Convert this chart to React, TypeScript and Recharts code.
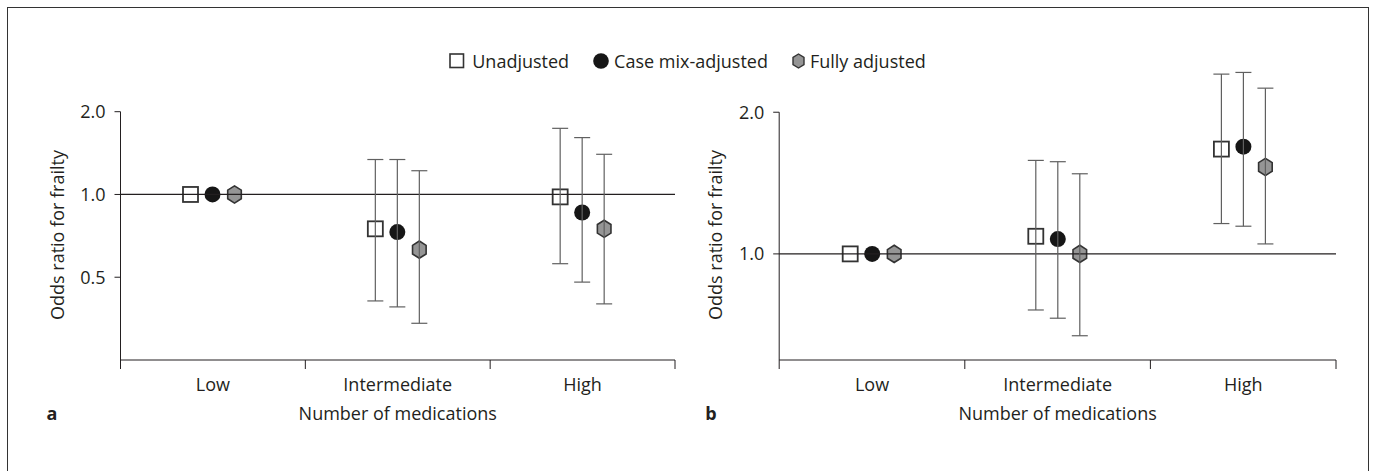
import React from "react";
import { ComposedChart, Bar, ErrorBar, XAxis, YAxis, ReferenceLine } from "recharts";

const FONT = "'Open Sans', sans-serif";
const INK = "#231f20";
const WHISKER = "#606060";

const categories = ["Low", "Intermediate", "High"];
const seriesNames = ["Unadjusted", "Case mix-adjusted", "Fully adjusted"];

// panel a
const aUnadjusted = [1.0, 0.75, 0.98];
const aUnadjustedLow = [null, 0.41, 0.56];
const aUnadjustedHigh = [null, 1.34, 1.74];
const aCaseMix = [1.0, 0.73, 0.86];
const aCaseMixLow = [null, 0.39, 0.48];
const aCaseMixHigh = [null, 1.34, 1.61];
const aFully = [1.0, 0.63, 0.75];
const aFullyLow = [null, 0.34, 0.4];
const aFullyHigh = [null, 1.22, 1.4];

// panel b
const bUnadjusted = [1.0, 1.09, 1.67];
const bUnadjustedLow = [null, 0.76, 1.16];
const bUnadjustedHigh = [null, 1.58, 2.41];
const bCaseMix = [1.0, 1.075, 1.69];
const bCaseMixLow = [null, 0.73, 1.145];
const bCaseMixHigh = [null, 1.57, 2.43];
const bFully = [1.0, 1.0, 1.53];
const bFullyLow = [null, 0.67, 1.05];
const bFullyHigh = [null, 1.48, 2.25];

const aTicks = [0.5, 1, 2];
const bTicks = [1, 2];

const KEYS = ["u", "c", "f"];

function buildRows(series: { v: number[]; lo: (number | null)[]; hi: (number | null)[] }[]) {
  return categories.map((name, i) => {
    const row: any = { name };
    series.forEach((s, k) => {
      const key = KEYS[k];
      row[key] = s.v[i];
      const lo = s.lo[i];
      const hi = s.hi[i];
      row[key + "Err"] = lo == null || hi == null ? null : [s.v[i] - lo, hi - s.v[i]];
    });
    return row;
  });
}

const aRows = buildRows([
  { v: aUnadjusted, lo: aUnadjustedLow, hi: aUnadjustedHigh },
  { v: aCaseMix, lo: aCaseMixLow, hi: aCaseMixHigh },
  { v: aFully, lo: aFullyLow, hi: aFullyHigh },
]);
const bRows = buildRows([
  { v: bUnadjusted, lo: bUnadjustedLow, hi: bUnadjustedHigh },
  { v: bCaseMix, lo: bCaseMixLow, hi: bCaseMixHigh },
  { v: bFully, lo: bFullyLow, hi: bFullyHigh },
]);

function SquareMark({ cx, cy }: { cx: number; cy: number }) {
  return <rect x={cx - 7.5} y={cy - 7.5} width={15} height={15} fill="#fff" stroke="#333" strokeWidth={1.8} />;
}
function CircleMark({ cx, cy }: { cx: number; cy: number }) {
  return <ellipse cx={cx} cy={cy} rx={8} ry={8} fill="#161616" />;
}
function HexMark({ cx, cy }: { cx: number; cy: number }) {
  const w = 6.8;
  const h = 8.6;
  const pts = [
    [cx, cy - h],
    [cx + w, cy - h / 2],
    [cx + w, cy + h / 2],
    [cx, cy + h],
    [cx - w, cy + h / 2],
    [cx - w, cy - h / 2],
  ]
    .map((p) => p.join(","))
    .join(" ");
  return <polygon points={pts} fill="#959595" stroke="#333" strokeWidth={1.6} />;
}

const MARKS = [SquareMark, CircleMark, HexMark];

function markShape(k: number) {
  const Mark = MARKS[k];
  return (props: any) => {
    if (props.value == null || props.y == null) return <g />;
    return <Mark cx={props.x + props.width / 2} cy={props.y} />;
  };
}

function CategoryTick(props: any) {
  const { x, y, payload, index, width, visibleTicksCount } = props;
  const half = width / (visibleTicksCount || 3) / 2;
  return (
    <g>
      {index === 0 && <line x1={x - half} x2={x - half} y1={y} y2={y + 9} stroke={INK} />}
      <line x1={x + half} x2={x + half} y1={y} y2={y + 9} stroke={INK} />
      <text x={x} y={y + 31} textAnchor="middle" fontFamily={FONT} fontSize={18} fill={INK}>
        {payload.value}
      </text>
    </g>
  );
}

function Panel(props: {
  rows: any[];
  domain: [number, number];
  ticks: number[];
  left: number;
  width: number;
  margin: { top: number; right: number; bottom: number; left: number };
  tag: string;
  clipAxis: boolean;
}) {
  const { rows, domain, ticks, left, width, margin, tag, clipAxis } = props;
  return (
    <div style={{ position: "absolute", left, top: 0 }}>
      <ComposedChart width={width} height={471} data={rows} margin={margin} barSize={14} barGap={8}>
        <XAxis
          xAxisId="err"
          dataKey="name"
          interval={0}
          height={40}
          tickLine={false}
          tickSize={0}
          tickMargin={0}
          axisLine={{ stroke: INK }}
          tick={<CategoryTick />}
          label={{
            content: ({ viewBox }: any) => (
              <g fontFamily={FONT} fontSize={18} fill={INK}>
                <text x={viewBox.x + viewBox.width / 2} y={viewBox.y + 60} textAnchor="middle">
                  Number of medications
                </text>
                <text x={viewBox.x - 74} y={viewBox.y + 60} fontWeight="bold">
                  {tag}
                </text>
              </g>
            ),
          }}
        />
        <XAxis xAxisId="pts" dataKey="name" hide />
        <YAxis
          type="number"
          scale="log"
          domain={domain}
          ticks={ticks}
          allowDataOverflow
          width={60}
          tickSize={6}
          tickMargin={9}
          axisLine={clipAxis ? false : { stroke: INK }}
          tickLine={{ stroke: INK }}
          tick={{ fontFamily: FONT, fontSize: 18, fill: INK }}
          tickFormatter={(v: number) => v.toFixed(1)}
          label={{
            content: ({ viewBox }: any) => {
              const cx = viewBox.x - 4;
              const cy = viewBox.y + viewBox.height - 125;
              return (
                <text
                  x={cx}
                  y={cy}
                  transform={`rotate(-90 ${cx} ${cy})`}
                  textAnchor="middle"
                  dominantBaseline="central"
                  fontFamily={FONT}
                  fontSize={18}
                  fill={INK}
                >
                  Odds ratio for frailty
                </text>
              );
            },
          }}
        />
        <ReferenceLine xAxisId="err" y={1} stroke={INK} strokeWidth={1.2} />
        {clipAxis && (
          <ReferenceLine
            xAxisId="err"
            position="start"
            segment={[
              { x: categories[0], y: ticks[ticks.length - 1] },
              { x: categories[0], y: domain[0] },
            ]}
            stroke={INK}
          />
        )}
        {KEYS.map((k) => (
          <Bar key={"e" + k} xAxisId="err" dataKey={k} shape={() => <g />} isAnimationActive={false}>
            <ErrorBar dataKey={k + "Err"} width={8} stroke={WHISKER} strokeWidth={1.2} direction="y" />
          </Bar>
        ))}
        {KEYS.map((k, i) => (
          <Bar key={"m" + k} xAxisId="pts" dataKey={k} shape={markShape(i)} isAnimationActive={false} />
        ))}
      </ComposedChart>
    </div>
  );
}

function LegendIcon({ k }: { k: number }) {
  if (k === 0)
    return (
      <svg width={16} height={16}>
        <rect x={1} y={1} width={13.5} height={13.5} fill="#fff" stroke="#333" strokeWidth={1.6} />
      </svg>
    );
  if (k === 1)
    return (
      <svg width={16} height={16}>
        <ellipse cx={8} cy={8} rx={7.8} ry={7.8} fill="#161616" />
      </svg>
    );
  return (
    <svg width={13} height={16}>
      <polygon points="6.5,1 12,4.3 12,11.7 6.5,15 1,11.7 1,4.3" fill="#959595" stroke="#333" strokeWidth={1.4} />
    </svg>
  );
}

export default function App() {
  return (
    <div style={{ position: "relative", width: 1375, height: 471, overflow: "hidden", background: "#fff" }}>
      <style>{"body{margin:0;overflow:hidden}"}</style>
      <div
        style={{
          position: "absolute",
          left: 7,
          top: 7,
          width: 1360,
          height: 480,
          borderTop: "1px solid #333",
          borderLeft: "1px solid #333",
          borderRight: "1px solid #333",
        }}
      />
      <div
        style={{
          position: "absolute",
          top: 48,
          left: 0,
          width: 1375,
          display: "flex",
          justifyContent: "center",
          fontFamily: FONT,
          fontSize: 18,
          color: INK,
          lineHeight: "26px",
        }}
      >
        {seriesNames.map((n, k) => (
          <div key={n} style={{ display: "flex", alignItems: "center", marginLeft: k === 0 ? 0 : 24 }}>
            <LegendIcon k={k} />
            <span style={{ marginLeft: k === 0 ? 7 : 5 }}>{n}</span>
          </div>
        ))}
      </div>
      <Panel
        rows={aRows}
        domain={[0.25, 2]}
        ticks={aTicks}
        left={0}
        width={690}
        margin={{ top: 111.7, right: 15, bottom: 71, left: 60.5 }}
        tag="a"
        clipAxis={false}
      />
      <Panel
        rows={bRows}
        domain={[0.595, 2.52]}
        ticks={bTicks}
        left={690}
        width={685}
        margin={{ top: 65, right: 39, bottom: 71, left: 29.2 }}
        tag="b"
        clipAxis={true}
      />
    </div>
  );
}
